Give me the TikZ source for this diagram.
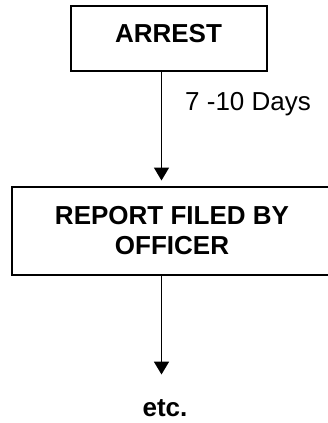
\documentclass[tikz,border=0pt]{standalone}
\usepackage{fontspec}
\setmainfont{Liberation Sans}
\usetikzlibrary{arrows.meta}
\tikzset{
  flow box/.style={draw, line width=2pt, inner xsep=0pt, font=\fontsize{26}{30}\bfseries\selectfont},
  flow arrow/.style={line width=1.8pt, -{Triangle[length=13pt, width=15pt]}},
  flow label/.style={inner sep=0pt, font=\fontsize{26}{30}\selectfont}
}

\begin{document}
\begin{tikzpicture}[x=1pt, y=1pt]
      \useasboundingbox (0,0) rectangle (327,-423);
      \node[flow box, minimum width=196pt, minimum height=65pt, text height=18.6pt, text depth=10pt] (arrest) at (168.5,-38) {ARREST};
      \node[flow box, minimum width=320pt, minimum height=88pt, align=center] (report) at (172,-230.5) {REPORT FILED BY\\OFFICER};
      \node[flow label, anchor=base west] (days) at (185,-110) {7 -10 Days};
      \node[flow label, anchor=base, font=\fontsize{26}{30}\bfseries\selectfont] (etc) at (165,-416.7) {etc.};
      \coordinate (spine) at (161.5,0);
      \draw[flow arrow, shorten >=5pt] (arrest.south -| spine) -- (report.north -| spine);
      \draw[flow arrow, shorten >=25pt] (report.south -| spine) -- (etc.north -| spine);
    \end{tikzpicture}
\end{document}
